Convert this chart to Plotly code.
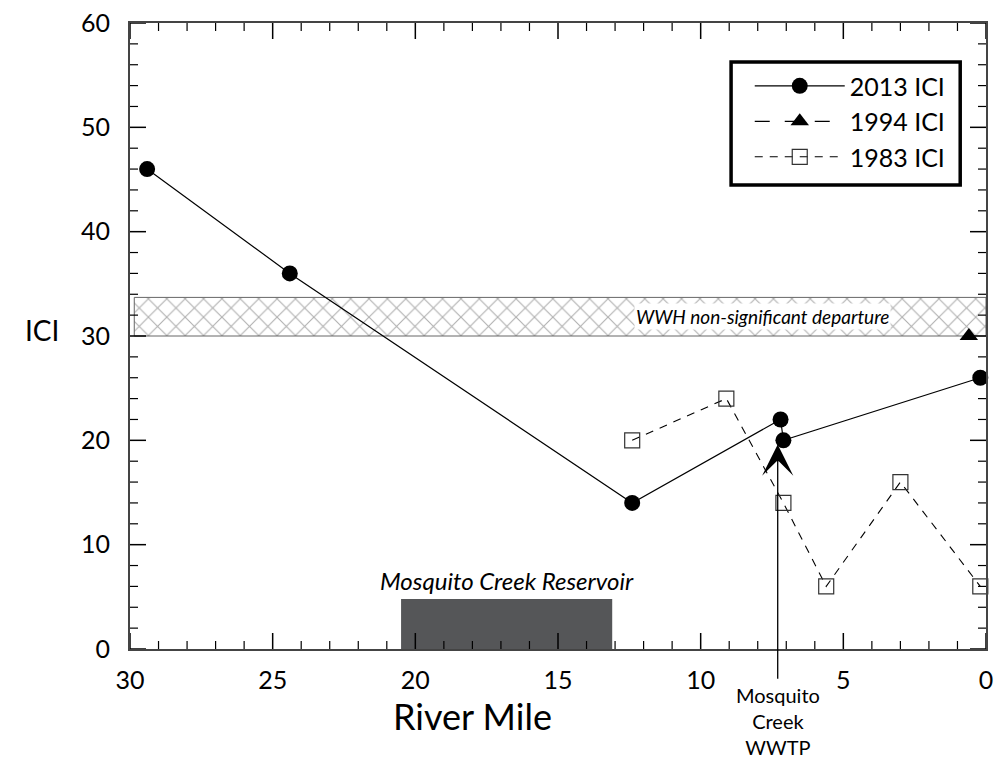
import plotly.graph_objects as go

# ICI scores by river mile
rm_2013 = [29.4, 24.4, 12.4, 7.2, 7.1, 0.2]
ici_2013 = [46, 36, 14, 22, 20, 26]

rm_1994 = [0.6]
ici_1994 = [30]

rm_1983 = [12.4, 9.1, 7.1, 5.6, 3.0, 0.2]
ici_1983 = [20, 24, 14, 6, 16, 6]

# WWH non-significant departure band
band_rm = [29.85, 0.0]
band_ici = [30.0, 33.7]

# Mosquito Creek Reservoir extent
reservoir_rm = [20.5, 13.1]
reservoir_top = 4.8

# Mosquito Creek WWTP outfall
wwtp_rm = 7.3
wwtp_arrow_tip = 19.6

X_RANGE = [30, 0]
Y_RANGE = [0, 60]
X_MAJOR, X_MINOR = 5, 1
Y_MAJOR, Y_MINOR = 10, 2

FONT = "Lato"

# plot-area geometry in pixels, used to place free text in paper coordinates
PLOT_L, PLOT_W = 130, 863
PLOT_B, PLOT_H = 649.3, 626.4


def px_to_paper(px, py):
    return (px - PLOT_L) / PLOT_W, (PLOT_B - py) / PLOT_H


fig = go.Figure()

fig.add_trace(go.Scatter(
    x=[band_rm[0], band_rm[1], band_rm[1], band_rm[0], band_rm[0]],
    y=[band_ici[0], band_ici[0], band_ici[1], band_ici[1], band_ici[0]],
    mode="lines", fill="toself",
    fillpattern=dict(shape="x", fgcolor="#5e5e5e", bgcolor="white", size=13, solidity=0.16),
    line=dict(color="#666666", width=1),
    showlegend=False, hoverinfo="skip",
))

fig.add_trace(go.Scatter(
    x=rm_2013, y=ici_2013, name="2013 ICI", mode="lines+markers",
    line=dict(color="black", width=1.2),
    marker=dict(symbol="circle", size=16, color="black"),
    cliponaxis=False,
))
fig.add_trace(go.Scatter(
    x=rm_1994, y=ici_1994, name="1994 ICI", mode="lines+markers",
    line=dict(color="black", width=1.2, dash="longdash"),
    marker=dict(symbol="triangle-up", size=16, color="black"),
    cliponaxis=False,
))
fig.add_trace(go.Scatter(
    x=rm_1983, y=ici_1983, name="1983 ICI", mode="lines+markers",
    line=dict(color="black", width=1.1, dash="8px,7px"),
    marker=dict(symbol="square-open", size=15, color="#333333", line=dict(width=1.2)),
    cliponaxis=False,
))

fig.add_shape(type="rect", xref="x", yref="y",
              x0=reservoir_rm[0], x1=reservoir_rm[1], y0=0, y1=reservoir_top,
              fillcolor="#555658", line=dict(width=0), layer="below")


# inward tick marks on all four sides (major + minor), sized in pixels
def tick_marks():
    lo_x, hi_x = min(X_RANGE), max(X_RANGE)
    for v in range(lo_x, hi_x + 1, X_MINOR):
        major = v % X_MAJOR == 0
        length, width = (16, 1.5) if major else (8, 1.2)
        for anchor, sign in ((0, 1), (1, -1)):
            fig.add_shape(type="line", xref="x", x0=v, x1=v,
                          yref="paper", ysizemode="pixel", yanchor=anchor,
                          y0=0, y1=sign * length,
                          line=dict(color="black", width=width))
    lo_y, hi_y = Y_RANGE
    for v in range(lo_y, hi_y + 1, Y_MINOR):
        major = v % Y_MAJOR == 0
        length, width = (16, 1.5) if major else (8, 1.2)
        for anchor, sign in ((0, 1), (1, -1)):
            fig.add_shape(type="line", yref="y", y0=v, y1=v,
                          xref="paper", xsizemode="pixel", xanchor=anchor,
                          x0=0, x1=sign * length,
                          line=dict(color="black", width=width))


tick_marks()

# legend frame
lx0, ly0 = px_to_paper(736, 185)
lx1, ly1 = px_to_paper(967, 62)
fig.add_shape(type="rect", xref="paper", yref="paper",
              x0=lx0, x1=lx1, y0=ly0, y1=ly1,
              line=dict(color="black", width=3.5), fillcolor="rgba(0,0,0,0)")

fig.add_annotation(x=(reservoir_rm[0] + reservoir_rm[1]) / 2, y=reservoir_top + 1.8,
                   text="<i>Mosquito Creek Reservoir</i>", showarrow=False,
                   xanchor="center", yanchor="middle",
                   font=dict(family=FONT, size=24, color="black"))

fig.add_annotation(x=7.85, y=(band_ici[0] + band_ici[1]) / 2,
                   text="<i>WWH non-significant departure</i>", showarrow=False,
                   xanchor="center", yanchor="middle",
                   bgcolor="white", borderpad=1,
                   font=dict(family=FONT, size=19, color="black"))

fig.add_annotation(x=wwtp_rm, y=wwtp_arrow_tip, ax=wwtp_rm, ay=-3.0,
                   xref="x", yref="y", axref="x", ayref="y",
                   text="", showarrow=True, arrowhead=3, arrowsize=4.0,
                   arrowwidth=1.3, arrowcolor="black")
_, wy = px_to_paper(0, 681)
fig.add_annotation(x=wwtp_rm, xref="x", y=wy, yref="paper", yanchor="top", xanchor="center",
                   text="Mosquito<br>Creek<br>WWTP", showarrow=False,
                   font=dict(family=FONT, size=20, color="black"))

ix, iy = px_to_paper(41, 330)
fig.add_annotation(xref="paper", yref="paper", x=ix, y=iy, xanchor="center", yanchor="middle",
                   text="ICI", showarrow=False, font=dict(family=FONT, size=28, color="black"))
rx, ry = px_to_paper(475, 716)
fig.add_annotation(xref="paper", yref="paper", x=rx, y=ry, xanchor="center", yanchor="middle",
                   text="River Mile", showarrow=False, font=dict(family=FONT, size=36, color="black"))

# axes: frame line plus tick labels pushed out by transparent outside ticks
label_common = dict(
    ticks="outside", tickcolor="rgba(0,0,0,0)",
    showline=True, linecolor="#444444", linewidth=2, mirror=True,
    showgrid=False, zeroline=False,
    tickfont=dict(family=FONT, size=25, color="black"),
)
fig.update_layout(
    xaxis=dict(range=X_RANGE, dtick=X_MAJOR, ticklen=8, **label_common),
    yaxis=dict(range=Y_RANGE, dtick=Y_MAJOR, ticklen=13, **label_common),
)

fig.update_layout(
    width=1000, height=759,
    margin=dict(l=130, r=7, t=23, b=110),
    paper_bgcolor="white", plot_bgcolor="white",
    showlegend=True,
    legend=dict(x=0.724, y=0.936, xanchor="left", yanchor="top",
                bgcolor="rgba(0,0,0,0)", borderwidth=0, itemwidth=90,
                font=dict(family=FONT, size=25, color="black")),
    font=dict(family=FONT),
)

fig.write_html("out.html")
